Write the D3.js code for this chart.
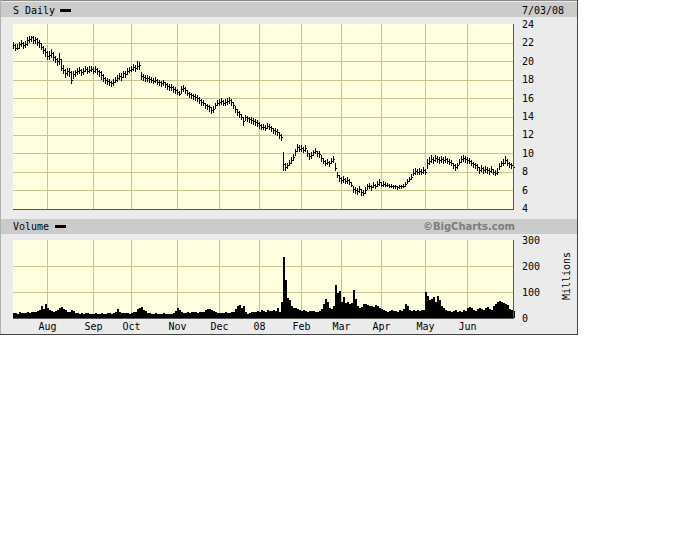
<!DOCTYPE html>
<html><head><meta charset="utf-8">
<script src="https://cdn.jsdelivr.net/npm/d3@7"></script>
<style>body{margin:0;background:#fff}svg{display:block}</style>
</head><body><svg id="c" width="677" height="554"></svg>
<script>
// ---- data (daily, 2007-07-09 .. 2008-07-03) ----
const closePrice = [
21.8,21.4,21.5,21.9,22.0,21.8,21.9,22.3,22.4,22.6,
22.3,22.4,22.1,22.0,21.6,21.2,21.0,20.6,20.7,20.9,
20.5,20.2,20.0,20.3,19.3,19.1,18.7,19.0,18.8,18.0,
18.6,18.8,18.9,19.1,18.8,18.9,19.2,19.0,19.1,19.2,
19.0,19.2,18.9,18.8,18.5,18.2,18.0,17.9,17.7,17.6,
17.8,18.0,18.2,18.4,18.3,18.7,18.6,19.0,19.1,19.2,
19.4,19.3,19.5,19.6,18.4,18.3,18.2,18.2,18.1,18.0,
17.9,18.0,17.8,17.7,17.6,17.7,17.5,17.3,17.2,17.2,
17.0,16.9,16.7,16.5,17.0,17.1,16.9,16.6,16.4,16.3,
16.2,16.1,16.0,15.8,15.6,15.5,15.2,15.1,15.0,14.7,
14.8,15.2,15.5,15.6,15.7,15.5,15.6,15.7,15.8,15.6,
15.2,14.8,14.5,14.3,14.0,13.5,13.9,13.8,13.7,13.6,
13.5,13.4,13.3,13.1,12.9,12.9,12.8,13.0,12.9,12.7,
12.5,12.4,12.3,12.0,11.8,8.8,8.5,8.7,9.0,9.3,
9.6,10.2,10.7,10.5,10.6,10.4,10.6,10.0,9.7,9.8,
10.1,10.3,10.0,9.9,9.5,9.2,9.0,9.1,8.9,9.2,
9.4,8.4,7.6,7.3,7.1,7.2,7.0,7.1,6.9,6.6,
6.1,6.0,5.9,6.1,5.8,5.7,6.0,6.4,6.5,6.3,
6.6,6.4,6.7,6.9,6.6,6.7,6.6,6.6,6.5,6.5,
6.4,6.4,6.3,6.4,6.4,6.5,6.7,7.0,7.2,7.4,
7.9,8.1,8.0,8.1,8.0,8.2,8.0,8.9,9.2,9.4,
9.3,9.5,9.4,9.3,9.4,9.3,9.4,9.2,9.1,9.0,
8.7,8.5,8.7,9.1,9.4,9.5,9.4,9.3,9.2,9.0,
8.8,8.7,8.5,8.2,8.4,8.2,8.3,8.2,8.1,8.3,
8.0,7.9,8.0,8.6,8.9,9.0,9.3,9.0,8.8,8.7,8.5];
const highPrice = [
22.1,21.9,21.9,22.1,22.3,22.1,22.2,22.6,22.7,22.8,
22.7,22.6,22.5,22.3,22.0,21.7,21.4,21.1,21.1,21.3,
21.0,20.6,20.4,20.9,20.2,19.6,19.2,19.3,19.3,18.9,
18.9,19.1,19.3,19.4,19.2,19.3,19.5,19.4,19.5,19.5,
19.4,19.5,19.3,19.1,18.9,18.6,18.3,18.2,18.1,17.9,
18.1,18.3,18.5,18.7,18.7,19.0,19.0,19.3,19.4,19.5,
19.7,19.6,20.0,19.9,18.8,18.6,18.5,18.5,18.4,18.3,
18.2,18.3,18.1,18.0,17.9,18.0,17.8,17.6,17.5,17.5,
17.3,17.2,17.0,16.8,17.3,17.4,17.2,16.9,16.7,16.6,
16.5,16.4,16.3,16.1,15.9,15.8,15.5,15.4,15.3,15.0,
15.1,15.5,15.8,15.9,16.0,15.8,15.9,16.0,16.1,15.9,
15.6,15.1,14.8,14.6,14.3,14.0,14.2,14.1,14.0,13.9,
13.8,13.7,13.6,13.4,13.2,13.2,13.1,13.3,13.2,13.0,
12.8,12.7,12.6,12.3,12.1,10.1,8.9,9.0,9.3,9.6,
9.9,10.5,11.0,10.9,10.9,10.7,10.9,10.4,10.0,10.1,
10.4,10.6,10.3,10.2,9.8,9.5,9.3,9.4,9.2,9.5,
9.7,8.9,8.0,7.6,7.4,7.5,7.3,7.4,7.2,6.9,
6.4,6.3,6.2,6.4,6.1,6.0,6.3,6.7,6.8,6.6,
6.9,6.7,7.0,7.2,6.9,7.0,6.9,6.8,6.7,6.7,
6.6,6.6,6.5,6.6,6.6,6.7,6.9,7.2,7.4,7.7,
8.3,8.4,8.3,8.4,8.3,8.5,8.3,9.4,9.6,9.8,
9.6,9.8,9.7,9.6,9.7,9.6,9.7,9.5,9.4,9.3,
9.0,8.8,9.0,9.4,9.7,9.8,9.7,9.6,9.5,9.3,
9.1,9.0,8.8,8.5,8.7,8.5,8.6,8.5,8.4,8.6,
8.3,8.2,8.4,8.9,9.2,9.4,9.7,9.4,9.1,9.0,8.8];
const lowPrice = [
21.5,21.2,21.3,21.4,21.7,21.5,21.6,21.8,22.1,22.2,
22.0,22.0,21.8,21.6,21.3,20.9,20.6,20.3,20.3,20.5,
20.1,19.9,19.6,19.7,19.1,18.7,18.3,18.5,18.4,17.6,
18.2,18.4,18.6,18.7,18.5,18.6,18.9,18.7,18.8,18.9,
18.7,18.8,18.6,18.4,18.1,17.9,17.6,17.5,17.4,17.3,
17.4,17.7,17.9,18.1,18.0,18.3,18.3,18.6,18.8,18.9,
19.1,19.0,19.2,19.2,18.1,18.0,17.9,17.9,17.8,17.7,
17.6,17.7,17.5,17.4,17.3,17.4,17.2,17.0,16.9,16.9,
16.7,16.6,16.4,16.3,16.6,16.8,16.6,16.3,16.1,16.0,
15.9,15.8,15.7,15.5,15.3,15.2,14.9,14.8,14.6,14.4,
14.5,14.9,15.2,15.3,15.4,15.2,15.3,15.4,15.5,15.3,
14.9,14.5,14.2,14.0,13.7,13.1,13.6,13.5,13.4,13.3,
13.2,13.1,13.0,12.8,12.6,12.6,12.5,12.7,12.6,12.4,
12.2,12.1,12.0,11.7,11.5,8.2,8.2,8.4,8.7,9.0,
9.3,9.8,10.3,10.2,10.3,10.1,10.2,9.7,9.4,9.5,
9.8,10.0,9.7,9.6,9.2,8.9,8.7,8.8,8.6,8.9,
9.1,8.2,7.4,7.0,6.8,6.9,6.8,6.8,6.7,6.4,
5.8,5.7,5.6,5.8,5.5,5.5,5.7,6.1,6.2,6.0,
6.3,6.2,6.4,6.6,6.4,6.5,6.4,6.4,6.3,6.3,
6.2,6.2,6.1,6.2,6.2,6.3,6.5,6.8,7.0,7.2,
7.6,7.8,7.7,7.8,7.7,7.9,7.7,8.4,8.8,9.1,
9.0,9.2,9.1,9.0,9.1,9.0,9.1,8.9,8.8,8.7,
8.4,8.2,8.4,8.8,9.1,9.2,9.1,9.0,8.9,8.7,
8.5,8.4,8.2,7.9,8.1,7.9,8.0,7.9,7.8,8.0,
7.7,7.6,7.8,8.3,8.6,8.7,9.0,8.7,8.5,8.4,8.2];
const volumeM = [
18,20,17,22,19,21,18,24,20,22,
25,23,28,30,48,35,52,38,30,28,
25,27,32,38,43,35,30,24,22,30,
26,20,18,17,20,16,18,19,15,17,
16,18,15,17,20,17,16,19,18,17,
20,24,35,22,20,18,21,19,17,20,
22,24,33,38,42,30,28,20,18,17,
16,18,17,15,16,18,17,16,15,17,
20,28,38,30,22,21,20,23,19,22,
24,22,21,23,22,25,30,35,33,30,
28,22,20,21,19,20,22,21,20,23,
22,35,45,50,38,48,22,15,18,22,
25,22,28,24,30,27,25,32,28,26,
30,28,40,25,60,235,146,77,70,45,
38,40,36,30,28,32,27,25,28,26,
27,24,22,28,35,55,75,60,38,33,
45,127,95,105,60,80,56,62,52,58,
108,72,45,40,43,52,55,50,45,48,
42,50,46,40,35,30,28,25,27,30,
26,28,25,30,27,35,55,48,30,28,
30,27,32,28,30,29,100,85,70,75,
80,62,85,70,45,40,30,28,26,25,
28,30,24,26,25,30,28,40,43,38,
30,28,35,40,33,30,38,42,33,30,
45,55,60,64,62,58,55,50,35,30,28];
const monthLabels = ["Aug","Sep","Oct","Nov","Dec","08","Feb","Mar","Apr","May","Jun"];
const priceTicks = [4,6,8,10,12,14,16,18,20,22,24];
const volumeTicks = [0,100,200,300];
const holidays = ["2007-09-03","2007-11-22","2007-12-25","2008-01-01","2008-01-21","2008-02-18","2008-03-21","2008-05-26"];

// ---- trading calendar ----
const fmt = d3.timeFormat("%Y-%m-%d");
const days = d3.timeDay.range(new Date(2007,6,9), new Date(2008,6,4))
  .filter(d => d.getDay() % 6 !== 0 && !holidays.includes(fmt(d)));
const monthStart = [];
days.forEach((d,i) => { if (i>0 && d.getMonth() !== days[i-1].getMonth()) monthStart.push(i); });

const svg = d3.select("#c").attr("shape-rendering","crispEdges");
const mono = "'DejaVu Sans Mono', monospace";

// panel
svg.append("rect").attr("x",0).attr("y",0).attr("width",578).attr("height",335).attr("fill","#ebebeb");
svg.append("rect").attr("x",1).attr("y",2).attr("width",576).attr("height",15).attr("fill","#cbcbcb");
svg.append("rect").attr("x",1).attr("y",219).attr("width",576).attr("height",15).attr("fill","#cbcbcb");
svg.append("line").attr("x1",0).attr("x2",578).attr("y1",0.5).attr("y2",0.5).attr("stroke","#8a8a8a");
svg.append("line").attr("x1",0.5).attr("x2",0.5).attr("y1",0).attr("y2",335).attr("stroke","#b0b0b0");
svg.append("line").attr("x1",577.5).attr("x2",577.5).attr("y1",0).attr("y2",335).attr("stroke","#444");
svg.append("line").attr("x1",0).attr("x2",578).attr("y1",334.5).attr("y2",334.5).attr("stroke","#444");

const X0 = 13, X1 = 513;
const x = d3.scaleLinear().domain([0, days.length - 1]).range([13.5, 513.5]);
const px = i => Math.floor(x(i)) + 0.5;
const col = i => Math.floor(x(i));

const yP = d3.scaleLinear().domain([4,24]).range([208.5, 24.5]);
const yV = d3.scaleLinear().domain([0,300]).range([318, 240]);

function panel(top, bottom, yScale, ticks) {
  svg.append("rect").attr("x",X0).attr("y",top).attr("width",X1-X0).attr("height",bottom-top).attr("fill","#ffffe0");
  const g = svg.append("g").attr("stroke","#c9c38f").attr("stroke-width",1);
  ticks.slice(1,-1).forEach(t => {
    const yy = Math.round(yScale(t)) + 0.5;
    g.append("line").attr("x1",X0).attr("x2",X1).attr("y1",yy).attr("y2",yy);
  });
  monthStart.slice(0, monthLabels.length).forEach(i => {
    g.append("line").attr("x1",px(i)).attr("x2",px(i)).attr("y1",top).attr("y2",bottom);
  });
}
panel(24, 209, yP, priceTicks);
panel(240, 318, yV, volumeTicks);

// volume bars
svg.append("g").selectAll("rect").data(volumeM).join("rect")
  .attr("x",(d,i)=>col(i)).attr("width",2)
  .attr("y",d=>Math.round(yV(d))).attr("height",d=>318-Math.round(yV(d))).attr("fill","#000");

// OHLC bars (pixel rects)
const ob = svg.append("g").attr("fill","#000");
closePrice.forEach((c,i) => {
  const cx = col(i);
  const yh = Math.round(yP(highPrice[i])), yl = Math.round(yP(lowPrice[i]));
  ob.append("rect").attr("x",cx).attr("y",yh).attr("width",1).attr("height",Math.max(1,yl-yh+1));
  ob.append("rect").attr("x",cx+1).attr("y",Math.round(yP(c))).attr("width",1).attr("height",1);
  if (i>0) ob.append("rect").attr("x",cx-1).attr("y",Math.round(yP(closePrice[i-1]))).attr("width",1).attr("height",1);
});

// plot borders
[[209,24],[318,240]].forEach(([b,t]) => {
  svg.append("line").attr("x1",X0).attr("x2",X1+1).attr("y1",b+0.5).attr("y2",b+0.5).attr("stroke","#555");
  svg.append("line").attr("x1",X1+0.5).attr("x2",X1+0.5).attr("y1",t).attr("y2",b+1).attr("stroke","#555");
});

// axis labels
const tx = (xx,yy,s,opt={}) => svg.append("text").attr("x",xx).attr("y",yy).text(s)
  .attr("font-family",opt.f||mono).attr("font-size",opt.s||10).attr("fill",opt.c||"#000")
  .attr("font-weight",opt.w||"normal").attr("text-anchor",opt.a||"start").attr("dominant-baseline","central");
priceTicks.forEach(t => tx(522, yP(t), String(t)));
volumeTicks.forEach(t => tx(522, yV(t), String(t)));
monthStart.slice(0, monthLabels.length).forEach((i,k) => tx(px(i), 326, monthLabels[k], {a:"middle"}));

tx(13, 10, "S Daily");
svg.append("rect").attr("x",60).attr("y",9).attr("width",11).attr("height",3).attr("fill","#000");
tx(522, 10, "7/03/08");
tx(13, 226.5, "Volume");
svg.append("rect").attr("x",55).attr("y",225).attr("width",11).attr("height",3).attr("fill","#000");
tx(515, 226.5, "\u00A9BigCharts.com", {f:"'DejaVu Sans', sans-serif", w:"bold", c:"#7d7d7d", a:"end"});
svg.append("text").attr("transform","translate(566,276) rotate(-90)").text("Millions")
  .attr("font-family",mono).attr("font-size",10).attr("text-anchor","middle").attr("dominant-baseline","central");
</script></body></html>
